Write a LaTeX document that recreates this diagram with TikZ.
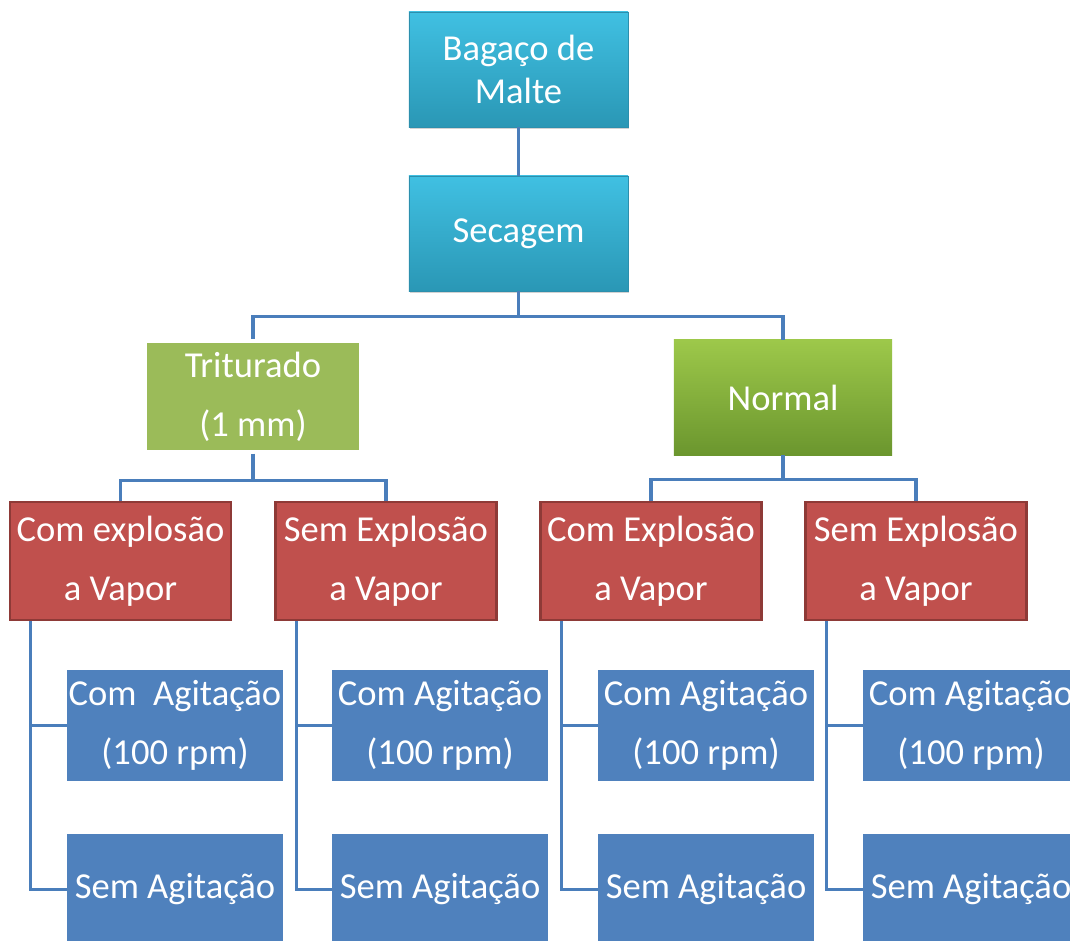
\documentclass[tikz,border=0pt]{standalone}
\usepackage{fontspec}
\setmainfont{Carlito}
\usetikzlibrary{positioning,shadows}
\definecolor{cyantop}{HTML}{40C0E2}
\definecolor{cyanbot}{HTML}{2A97B5}
\definecolor{cyanline}{HTML}{2C8FAD}
\definecolor{greenfill}{HTML}{9BBB59}
\definecolor{greentop}{HTML}{9DC84A}
\definecolor{greenbot}{HTML}{6B962E}
\definecolor{redfill}{HTML}{C0504D}
\definecolor{redline}{HTML}{8E3A37}
\definecolor{bluefill}{HTML}{4F81BD}
\definecolor{conncol}{HTML}{4A7EBB}

\begin{document}
\begin{tikzpicture}[
			x=0.025cm, y=-0.025cm,
			box/.style = {inner sep=0pt, text=white, align=center,
				font=\fontsize{26}{31}\selectfont},
			top/.style = {box, minimum width=5.475cm, minimum height=2.875cm,
				top color=cyantop, bottom color=cyanbot, draw=cyanline, line width=0.6pt,
				drop shadow={shadow xshift=0.5pt, shadow yshift=-1.5pt, opacity=0.35}},
			mid/.style = {box, minimum width=5.45cm, minimum height=2.875cm,
				font=\fontsize{26}{42}\selectfont},
			cond/.style = {box, minimum width=5.525cm, minimum height=2.95cm,
				fill=redfill, draw=redline, line width=1.5pt,
				font=\fontsize{26}{42}\selectfont},
			leaf/.style = {box, minimum width=5.4cm, minimum height=2.775cm,
				fill=bluefill, font=\fontsize{26}{42}\selectfont},
			conn/.style = {draw=conncol, line width=2.2pt}
		]
		\clip (0,0) rectangle (1070,940);
		\fill[white] (0,0) rectangle (1070,940);
		% levels 1 and 2
		\node[top] (bagaco) at (518.5,69.5) {Bagaço de\\Malte};
		\node[top] (secagem) at (518.5,233.5) {Secagem};
		\node[mid, minimum width=5.4cm, minimum height=2.775cm, fill=greenfill,
			draw=white, line width=2.5pt,
			drop shadow={shadow xshift=0.5pt, shadow yshift=-1.5pt, opacity=0.3}]
			(trit) at (253,396.5) {Triturado\\(1 mm)};
		\node[mid, top color=greentop, bottom color=greenbot]
			(normal) at (783,397.5) {Normal};
		% level 3
		\node[cond] (cev) at (120.5,561) {Com explosão\\a Vapor};
		\node[cond] (sev) at (386,561) {Sem Explosão\\a Vapor};
		\node[cond] (cevn) at (651,561) {Com Explosão\\a Vapor};
		\node[cond] (sevn) at (916,561) {Sem Explosão\\a Vapor};
		% level 4
		\node[leaf] (cev1) at (175,725.5) {Com\ \ Agitação\\(100 rpm)};
		\node[leaf] (cev2) at (175,889.5) {Sem Agitação};
		\node[leaf] (sev1) at (440,725.5) {Com Agitação\\(100 rpm)};
		\node[leaf] (sev2) at (440,889.5) {Sem Agitação};
		\node[leaf] (cevn1) at (706,725.5) {Com Agitação\\(100 rpm)};
		\node[leaf] (cevn2) at (706,889.5) {Sem Agitação};
		\node[leaf] (sevn1) at (971,725.5) {Com Agitação\\(100 rpm)};
		\node[leaf] (sevn2) at (971,889.5) {Sem Agitação};
		% connectors
		\draw[conn] (bagaco) -- (secagem);
		\draw[conn] (secagem.south) -- ++(0,25) -| (trit.north);
		\draw[conn] (secagem.south) -- ++(0,25) -| (normal.north);
		\draw[conn] (trit.south) -- ++(0,27) -| (cev.north);
		\draw[conn] (trit.south) -- ++(0,27) -| (sev.north);
		\draw[conn] (normal.south) -- ++(0,24) -| (cevn.north);
		\draw[conn] (normal.south) -- ++(0,24) -| (sevn.north);
		\draw[conn] ([xshift=0.55cm]cev.south west) |- (cev1.west);
		\draw[conn] ([xshift=0.55cm]cev.south west) |- (cev2.west);
		\draw[conn] ([xshift=0.55cm]sev.south west) |- (sev1.west);
		\draw[conn] ([xshift=0.55cm]sev.south west) |- (sev2.west);
		\draw[conn] ([xshift=0.55cm]cevn.south west) |- (cevn1.west);
		\draw[conn] ([xshift=0.55cm]cevn.south west) |- (cevn2.west);
		\draw[conn] ([xshift=0.55cm]sevn.south west) |- (sevn1.west);
		\draw[conn] ([xshift=0.55cm]sevn.south west) |- (sevn2.west);
	\end{tikzpicture}
\end{document}
